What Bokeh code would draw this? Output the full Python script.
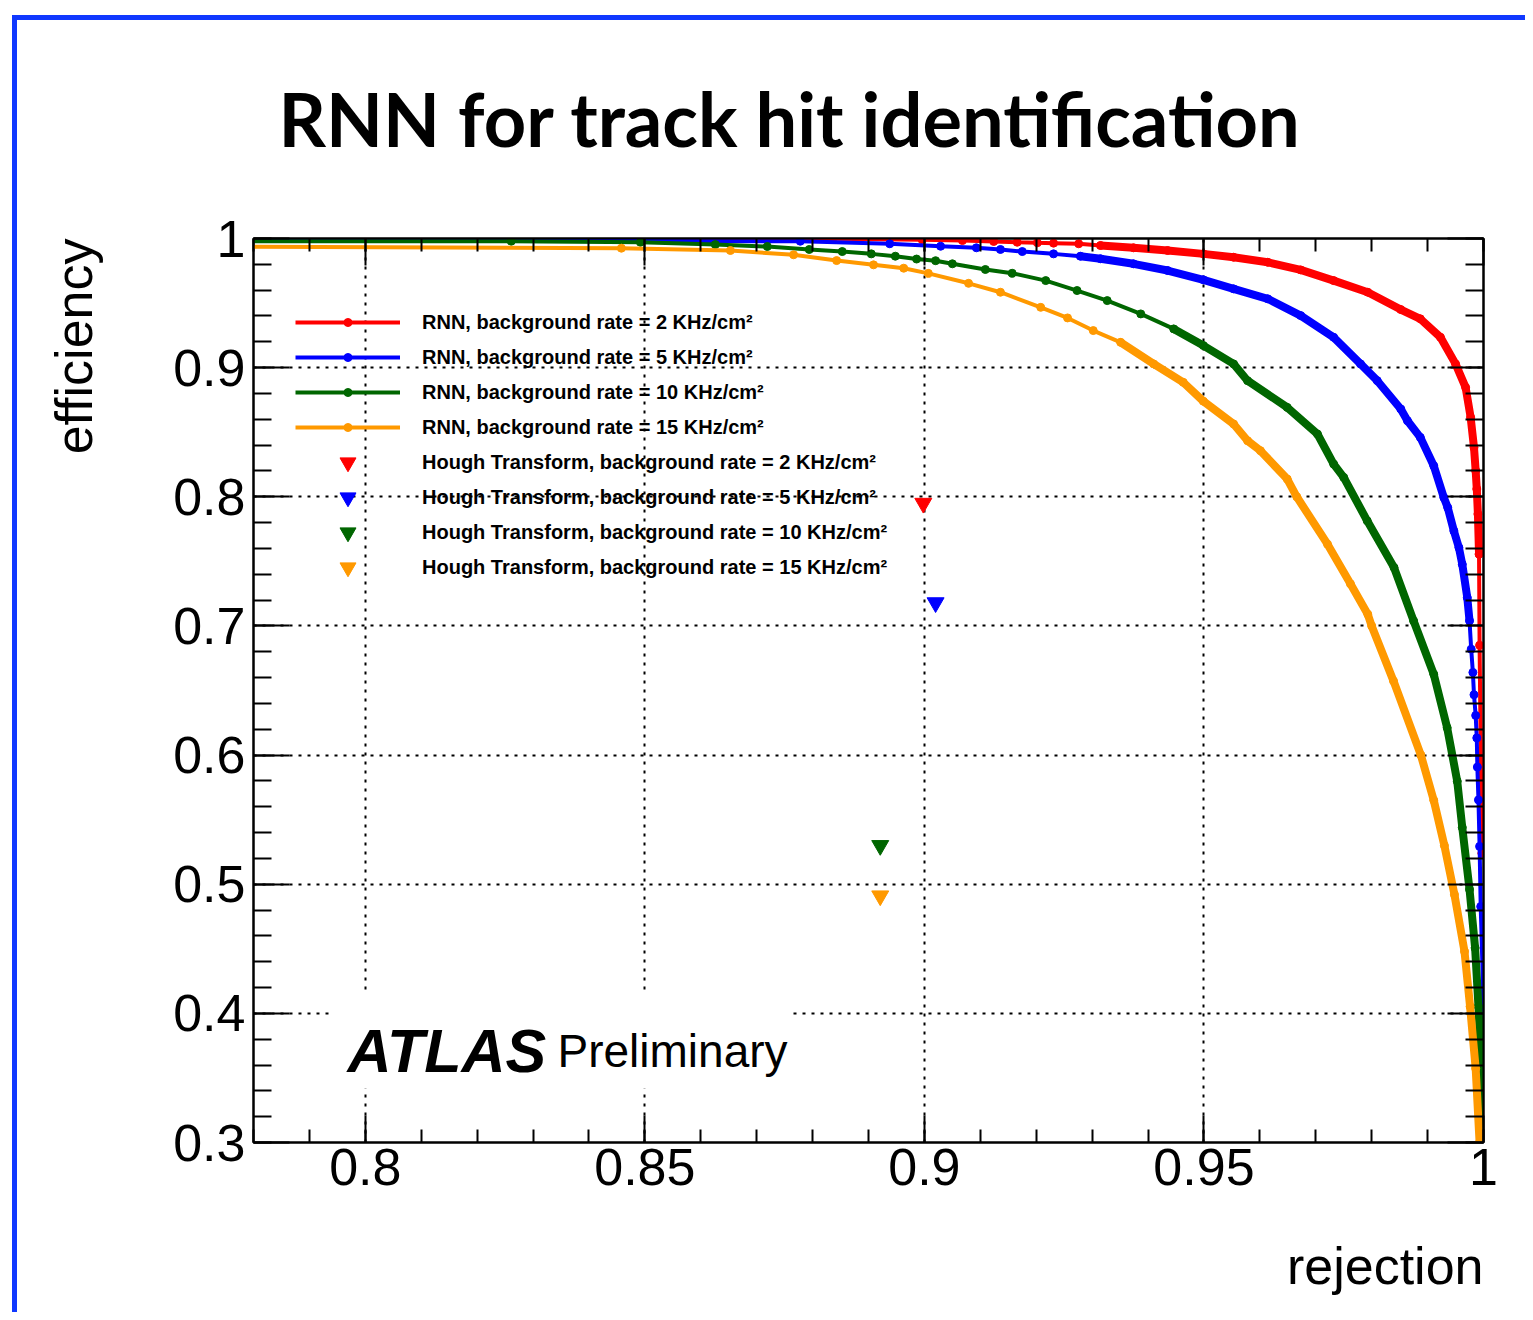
from bokeh.plotting import figure
from bokeh.models import (FixedTicker, LinearAxis, CustomJSTickFormatter, Label,
                          BoxAnnotation, Legend, LegendItem, Range1d, Title)
from bokeh.embed import file_html
from bokeh.resources import INLINE

# ---------------- data ----------------
red_x = [0.775, 0.8836, 0.8996, 0.9068, 0.9124, 0.9166, 0.9202, 0.9231, 0.9276, 0.9315,
         0.9374, 0.9435, 0.9499, 0.9553, 0.9614, 0.9673, 0.9732, 0.9793, 0.9852, 0.9887,
         0.9923, 0.9950, 0.9968, 0.9977, 0.9983, 0.9986, 0.9988, 0.9990, 0.9992, 0.9993,
         0.9997]
red_y = [0.9998, 0.9998, 0.9990, 0.9984, 0.9977, 0.9971, 0.9967, 0.9964, 0.9959, 0.9946,
         0.9928, 0.9907, 0.9881, 0.9855, 0.9816, 0.9757, 0.9674, 0.9584, 0.9450, 0.9378,
         0.9235, 0.9029, 0.8847, 0.8615, 0.8382, 0.8202, 0.8060, 0.7866, 0.7556, 0.6850,
         0.5240]

blue_x = [0.775, 0.8778, 0.8938, 0.9029, 0.9093, 0.9136, 0.9175, 0.9231, 0.9279, 0.9315,
          0.9374, 0.9435, 0.9499, 0.9553, 0.9614, 0.9673, 0.9732, 0.9780, 0.9810, 0.9852,
          0.9864, 0.9887, 0.9911, 0.9929, 0.9936, 0.9947, 0.9956, 0.9962, 0.9971, 0.9975,
          0.9978, 0.9981, 0.9983, 0.9986, 0.9988, 0.9989, 0.9991, 0.9993, 0.9995, 0.9999,
          1.0]
blue_y = [0.9987, 0.9979, 0.9959, 0.9940, 0.9928, 0.9915, 0.9899, 0.9881, 0.9863, 0.9843,
          0.9804, 0.9752, 0.9680, 0.9610, 0.9533, 0.9403, 0.9235, 0.9029, 0.8899, 0.8680,
          0.8589, 0.8460, 0.8240, 0.7995, 0.7917, 0.7736, 0.7607, 0.7478, 0.7219, 0.7040,
          0.6820, 0.6640, 0.6467, 0.6307, 0.6133, 0.5907, 0.5653, 0.5293, 0.4827, 0.4227,
          0.30]

green_x = [0.775, 0.8261, 0.8492, 0.8626, 0.8719, 0.8794, 0.8853, 0.8905, 0.8948, 0.8986,
           0.9020, 0.9050, 0.9109, 0.9157, 0.9217, 0.9273, 0.9327, 0.9387, 0.9446, 0.9499,
           0.9553, 0.9578, 0.9649, 0.9703, 0.9732, 0.9750, 0.9792, 0.9840, 0.9875, 0.9911,
           0.9935, 0.9953, 0.9962, 0.9975, 0.9985, 0.9991, 0.9996, 0.9998]
green_y = [0.9979, 0.9979, 0.9971, 0.9953, 0.9938, 0.9915, 0.9899, 0.9881, 0.9863, 0.9841,
           0.9828, 0.9804, 0.9760, 0.9731, 0.9674, 0.9597, 0.9519, 0.9416, 0.9300, 0.9171,
           0.9029, 0.8899, 0.8692, 0.8486, 0.8253, 0.8150, 0.7814, 0.7452, 0.7039, 0.6626,
           0.6212, 0.5798, 0.5440, 0.4960, 0.4507, 0.4053, 0.3573, 0.30]

orange_x = [0.775, 0.8458, 0.8653, 0.8766, 0.8843, 0.8909, 0.8963, 0.9007, 0.9079, 0.9136,
            0.9208, 0.9256, 0.9302, 0.9351, 0.9410, 0.9463, 0.9499, 0.9553, 0.9578, 0.9601,
            0.9649, 0.9666, 0.9721, 0.9762, 0.9793, 0.9800, 0.9839, 0.9888, 0.9911, 0.9930,
            0.9948, 0.9966, 0.9976, 0.9986, 0.9993]
orange_y = [0.9938, 0.9925, 0.9907, 0.9874, 0.9829, 0.9796, 0.9770, 0.9730, 0.9653, 0.9584,
            0.9467, 0.9385, 0.9287, 0.9196, 0.9029, 0.8886, 0.8740, 0.8564, 0.8434, 0.8357,
            0.8137, 0.8000, 0.7633, 0.7326, 0.7091, 0.7000, 0.6574, 0.6000, 0.5650, 0.5300,
            0.4920, 0.4480, 0.4053, 0.3573, 0.3000]

hough_x = [0.8998, 0.9020, 0.8921, 0.8921]
hough_y = [0.795, 0.718, 0.530, 0.491]

rates = ["2", "5", "10", "15"]
colors = ["#ff0000", "#0000ff", "#006600", "#ff9900"]

x_major = [0.8, 0.85, 0.9, 0.95, 1.0]
x_minor = [0.78, 0.79, 0.8, 0.81, 0.82, 0.83, 0.84, 0.85, 0.86, 0.87, 0.88, 0.89, 0.9,
           0.91, 0.92, 0.93, 0.94, 0.95, 0.96, 0.97, 0.98, 0.99, 1.0]
y_major = [0.3, 0.4, 0.5, 0.6, 0.7, 0.8, 0.9, 1.0]
y_minor = [0.3, 0.32, 0.34, 0.36, 0.38, 0.4, 0.42, 0.44, 0.46, 0.48, 0.5, 0.52, 0.54,
           0.56, 0.58, 0.6, 0.62, 0.64, 0.66, 0.68, 0.7, 0.72, 0.74, 0.76, 0.78, 0.8,
           0.82, 0.84, 0.86, 0.88, 0.9, 0.92, 0.94, 0.96, 0.98, 1.0]

title_text = "RNN for track hit identification"
x_label = "rejection"
y_label = "efficiency"

# ---------------- layout helpers (frame px -> data) ----------------
XMIN, XMAX, YMIN, YMAX = 0.78, 1.0, 0.3, 1.0
FL, FR, FT, FB = 253, 1483, 238, 1142  # frame edges in page pixels


def px2x(px):
    return XMIN + (px - FL) / (FR - FL) * (XMAX - XMIN)


def py2y(py):
    return YMAX - (py - FT) / (FB - FT) * (YMAX - YMIN)


# canvas starts at page (17, 20): margin + 5px blue slide border
CX, CY = 17, 20
W, H = 1513, 1297
p = figure(width=W, height=H, x_range=Range1d(XMIN, XMAX), y_range=Range1d(YMIN, YMAX),
           output_backend="svg", toolbar_location=None,
           min_border_left=FL - CX, min_border_right=CX + W - FR,
           min_border_top=FT - CY, min_border_bottom=CY + H - FB,
           margin=(15, 0, 0, 12),
           styles={"border-left": "5px solid #1038ff", "border-top": "5px solid #1038ff"})
p.outline_line_color = "black"
p.outline_line_width = 2
p.background_fill_color = "white"
p.border_fill_color = "white"

xt = FixedTicker(ticks=x_major, minor_ticks=x_minor)
yt = FixedTicker(ticks=y_major, minor_ticks=y_minor)
fmt = CustomJSTickFormatter(code="return String(Math.round(tick*1000)/1000);")
blank = CustomJSTickFormatter(code="return '';")


def style_axis(ax, major, minor):
    ax.axis_line_color = "black"
    ax.axis_line_width = 2
    ax.major_tick_line_color = "black"
    ax.major_tick_line_width = 2
    ax.minor_tick_line_color = "black"
    ax.minor_tick_line_width = 2
    ax.major_tick_in = major
    ax.major_tick_out = 0
    ax.minor_tick_in = minor
    ax.minor_tick_out = 0
    ax.major_label_text_font = "Liberation Sans"
    ax.major_label_text_font_size = "52px"
    ax.major_label_text_color = "black"


def spacer(ax, gap):
    # an (invisible) blank axis label used only to push the outer title away
    ax.axis_label = " "
    ax.axis_label_text_font_size = "1px"
    ax.axis_label_standoff = gap


for ax in p.xaxis:
    ax.ticker = xt
    ax.formatter = fmt
    style_axis(ax, 27, 13)
    ax.major_label_standoff = 6
    spacer(ax, 43)
for ax in p.yaxis:
    ax.ticker = yt
    ax.formatter = fmt
    style_axis(ax, 36, 18)
    ax.major_label_standoff = 8
    spacer(ax, 64)

top_ax = LinearAxis(ticker=xt, formatter=blank)
style_axis(top_ax, 27, 13)
top_ax.major_label_text_font_size = "1px"
top_ax.major_label_standoff = 0
spacer(top_ax, 72)
p.add_layout(top_ax, "above")
right_ax = LinearAxis(ticker=yt, formatter=blank)
style_axis(right_ax, 36, 18)
right_ax.major_label_text_font_size = "1px"
right_ax.major_label_standoff = 0
p.add_layout(right_ax, "right")

p.xgrid.ticker = xt
p.ygrid.ticker = yt
for g in (p.xgrid, p.ygrid):
    g.grid_line_color = "black"
    g.grid_line_dash = "3 6"
    g.grid_line_width = 2

# ---------------- curves ----------------
series = [(red_x, red_y), (blue_x, blue_y), (green_x, green_y), (orange_x, orange_y)]
# index ranges where the original markers sit so densely that they merge into a band
dense = [(9, 29), (8, 30), (18, None), (13, None)]
rnn_items = []
for (xs, ys), c, r, (a, b) in zip(series, colors, rates, dense):
    ln = p.line(xs, ys, line_color=c, line_width=4)
    p.line(xs[a:b], ys[a:b], line_color=c, line_width=8, line_join="round", line_cap="round")
    sc = p.scatter(xs, ys, size=8, fill_color=c, line_color=c, marker="circle")
    rnn_items.append(LegendItem(label="RNN, background rate = %s KHz/cm\u00b2" % r, renderers=[ln, sc]))

hough_items = []
for i, (c, r) in enumerate(zip(colors, rates)):
    tr = p.scatter([hough_x[i]], [hough_y[i]], marker="inverted_triangle", size=17,
                   fill_color=c, line_color=c)
    hough_items.append(LegendItem(label="Hough Transform, background rate = %s KHz/cm\u00b2" % r,
                                  renderers=[tr]))

common = dict(glyph_width=105, padding=0, margin=0, label_standoff=22, spacing=0,
              label_text_font="Liberation Sans", label_text_font_style="bold",
              label_text_font_size="20px", label_text_color="black",
              background_fill_alpha=0, border_line_alpha=0)
FH = FB - FT
ROW0, PITCH = 322, 35  # centre of first legend row (page px) and row pitch
p.add_layout(Legend(items=rnn_items, location=(42, FH - (ROW0 - 17.5 - FT) - 4 * PITCH),
                    glyph_height=20, label_height=35, **common))
for k, item in enumerate(hough_items):
    centre = ROW0 + (4 + k) * PITCH
    p.add_layout(Legend(items=[item], location=(42, FH - (centre - 20 - FT) - 40),
                        glyph_height=40, label_height=40, **common))

# ---------------- annotations ----------------
p.add_layout(BoxAnnotation(left=px2x(330), right=px2x(790), top=py2y(992), bottom=py2y(1088),
                           fill_color="white", fill_alpha=1.0, line_color=None))
p.add_layout(Label(x=px2x(347), y=py2y(1050), text="ATLAS", text_font="Liberation Sans",
                   text_font_style="bold italic", text_font_size="61px", text_color="black",
                   text_baseline="alphabetic"))
p.add_layout(Label(x=px2x(557), y=py2y(1050), text="Preliminary", text_font="Liberation Sans",
                   text_font_size="46px", text_color="black", text_baseline="alphabetic"))

p.title = Title(text=title_text, align="left", offset=25, standoff=0,
                text_font="Lato", text_font_style="bold", text_font_size="74px",
                text_color="black")
p.add_layout(Title(text=y_label, align="right", standoff=0, text_font="Liberation Sans",
                   text_font_style="normal", text_font_size="52px", text_color="black"), "left")
p.add_layout(Title(text=x_label, align="right", standoff=0, text_font="Liberation Sans",
                   text_font_style="normal", text_font_size="52px", text_color="black"), "below")

open("out.html", "w").write(file_html(p, INLINE))
